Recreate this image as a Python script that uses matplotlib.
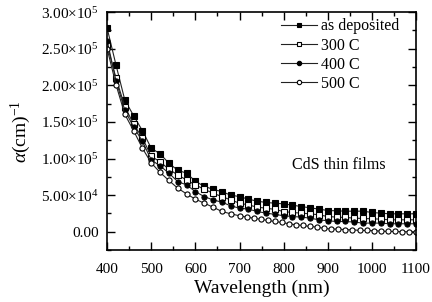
import numpy as np
import matplotlib
matplotlib.use("Agg")
import matplotlib.pyplot as plt
from matplotlib.ticker import FuncFormatter, MultipleLocator

plt.rcParams['font.family'] = ['Liberation Serif', 'DejaVu Serif']
plt.rcParams['mathtext.fontset'] = 'custom'
plt.rcParams['mathtext.rm'] = 'Liberation Serif'
plt.rcParams['mathtext.it'] = 'Liberation Serif:italic'

# длины волн (нм)
wl = list(range(400, 1101, 20))
wl_500 = list(range(400, 681, 20)) + list(range(700, 1101, 16))

# коэффициент поглощения, x1e5 см^-1
as_dep = [2.78, 2.28, 1.80, 1.585, 1.38, 1.14, 1.065, 0.935, 0.84, 0.80,
          0.69, 0.62, 0.58, 0.548, 0.50, 0.48, 0.445, 0.418, 0.40, 0.39,
          0.381, 0.363, 0.344, 0.327, 0.309, 0.29, 0.286, 0.281, 0.281, 0.281,
          0.263, 0.254, 0.245, 0.245, 0.245, 0.245]
c300 = [2.55, 2.10, 1.71, 1.47, 1.28, 1.03, 0.956, 0.853, 0.776, 0.707,
        0.64, 0.58, 0.527, 0.48, 0.435, 0.39, 0.367, 0.336, 0.322, 0.305,
        0.276, 0.263, 0.254, 0.245, 0.231, 0.208, 0.20, 0.195, 0.186, 0.181,
        0.177, 0.172, 0.163, 0.163, 0.163, 0.163]
c400 = [2.61, 2.065, 1.66, 1.43, 1.235, 0.98, 0.90, 0.80, 0.685, 0.64,
        0.548, 0.48, 0.435, 0.404, 0.354, 0.322, 0.309, 0.277, 0.254, 0.238,
        0.218, 0.208, 0.20, 0.186, 0.163, 0.15, 0.14, 0.14, 0.132, 0.118,
        0.118, 0.118, 0.109, 0.109, 0.109, 0.109]
c500 = [2.50, 2.01, 1.605, 1.38, 1.14, 0.94, 0.81, 0.70, 0.595, 0.517,
        0.445, 0.39, 0.336, 0.277, 0.245,
        0.218, 0.20, 0.185, 0.17, 0.155, 0.14, 0.127, 0.109, 0.095, 0.086,
        0.072, 0.064, 0.045, 0.037, 0.037, 0.027, 0.027, 0.018, 0.018, 0.014,
        0.009, 0.004, 0.004, 0.0, 0.0, 0.0]

fig = plt.figure(figsize=(4.32, 3.02), dpi=100)
ax = fig.add_axes([0.248, 0.172, 0.715, 0.788])

kw = dict(color='#222222', lw=0.8, markersize=3.7, markeredgewidth=0.8,
          markeredgecolor='black')
ax.plot(wl, np.array(as_dep) * 1e5, marker='s', markerfacecolor='black',
        label='as deposited', **kw)
ax.plot(wl, np.array(c300) * 1e5, marker='s', markerfacecolor='white',
        label='300 C', **kw)
ax.plot(wl, np.array(c400) * 1e5, marker='o', markerfacecolor='black',
        label='400 C', **kw)
ax.plot(wl_500, np.array(c500) * 1e5, marker='o', markerfacecolor='white',
        label='500 C', **kw)

ax.set_xlim(400, 1100)
ax.set_ylim(-2.5e4, 3.0e5)
ax.xaxis.set_major_locator(MultipleLocator(100))
ax.xaxis.set_minor_locator(MultipleLocator(50))
ax.yaxis.set_major_locator(MultipleLocator(5e4))
ax.yaxis.set_minor_locator(MultipleLocator(2.5e4))


def fmt(v, pos):
    if abs(v) < 1:
        return '0.00'
    e = int(np.floor(np.log10(abs(v))))
    m = v / 10 ** e
    return '%.2f×10$^{%d}$' % (m, e)


ax.yaxis.set_major_formatter(FuncFormatter(fmt))
ax.tick_params(which='both', direction='in', top=True, right=True,
               labelsize=11, width=1.0)
ax.tick_params(which='major', length=6)
ax.tick_params(which='minor', length=3)
ax.tick_params(axis='x', pad=9)
ax.tick_params(axis='y', pad=6)
for s in ax.spines.values():
    s.set_linewidth(1.2)

ax.set_xlabel('Wavelength (nm)', fontsize=14, labelpad=3)
ax.set_ylabel(r'$\alpha$(cm)$^{-1}$', fontsize=14)
ax.yaxis.set_label_coords(-0.24, 0.5)

ax.text(820, 0.91e5, 'CdS thin films', fontsize=11.5, va='center')

leg = ax.legend(loc='upper right', frameon=False, fontsize=11.5,
                handlelength=2.3, handletextpad=0.2, labelspacing=0.2,
                borderaxespad=0.0, bbox_to_anchor=(0.965, 1.0),
                markerscale=0.85)

fig.savefig('out.png', dpi=100)
